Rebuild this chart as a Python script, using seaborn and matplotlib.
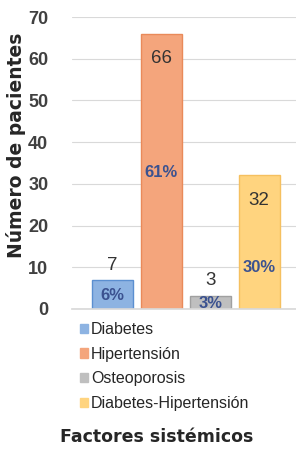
import matplotlib
matplotlib.use("Agg")
import matplotlib.pyplot as plt
import seaborn as sns
import pandas as pd

categories = ["Diabetes", "Hipertensión", "Osteoporosis", "Diabetes-Hipertensión"]
counts = [7, 66, 3, 32]
percents = ["6%", "61%", "3%", "30%"]
colors = ["#8db3e2", "#f4a57c", "#bfbfbf", "#ffd47f"]
edge_colors = ["#5b8fd0", "#e98a5a", "#a0a0a0", "#f5c060"]
count_label_y = [10.3, 60.0, 6.8, 26.0]
pct_label_y = [3.3, 32.8, 1.2, 10.0]

sns.set_theme(style="white")
plt.rcParams["font.family"] = ["Liberation Sans Narrow", "Liberation Sans", "DejaVu Sans"]

df = pd.DataFrame({"cat": categories, "n": counts})

fig = plt.figure(figsize=(2.96, 4.49), dpi=100)
ax = fig.add_axes([0.243, 0.312, 0.757, 0.65])

sns.barplot(data=df, x="cat", y="n", hue="cat", palette=colors, dodge=False,
            width=0.84, ax=ax, legend=False, saturation=1)
for p, ec in zip(ax.patches, edge_colors):
    p.set_edgecolor(ec)
    p.set_linewidth(1.0)

ax.set_ylim(0, 70)
ax.set_xlim(-0.82, 3.75)
ax.set_yticks(range(0, 71, 10))
ax.yaxis.grid(True, color="#d9d9d9", linewidth=0.8)
ax.set_axisbelow(True)
for s in ["top", "right", "left"]:
    ax.spines[s].set_visible(False)
ax.spines["bottom"].set_color("#d9d9d9")
ax.set_xticks([])
ax.set_xlabel("")
ax.tick_params(axis="y", length=0, labelsize=13, colors="#404040", pad=17)
for lab in ax.get_yticklabels():
    lab.set_fontweight("bold")
ax.set_ylabel("Número de pacientes", fontsize=13.5, fontweight="bold",
              color="#262626", family=["DejaVu Sans"])
ax.yaxis.set_label_coords(-0.205, 0.56)

for i in range(len(categories)):
    ax.text(i, count_label_y[i], str(counts[i]), ha="center", va="center",
            fontsize=13.5, color="#333333")
    ax.text(i, pct_label_y[i], percents[i], ha="center", va="center",
            fontsize=12, fontweight="bold", color="#3b5290",
            family=["Liberation Sans", "DejaVu Sans"])

from matplotlib.patches import Patch
handles = [Patch(facecolor=c, edgecolor=c) for c in colors]
leg = fig.legend(handles, categories, loc="upper left",
                 bbox_to_anchor=(0.25, 0.297), frameon=False, fontsize=11.5,
                 handlelength=0.5, handleheight=0.5, handletextpad=0.15,
                 labelspacing=0.6, borderaxespad=0)

fig.text(0.53, 0.027, "Factores sistémicos", ha="center", va="center",
         fontsize=12.5, fontweight="bold", color="#262626",
         family=["DejaVu Sans"])

fig.savefig("out.png", dpi=100)
